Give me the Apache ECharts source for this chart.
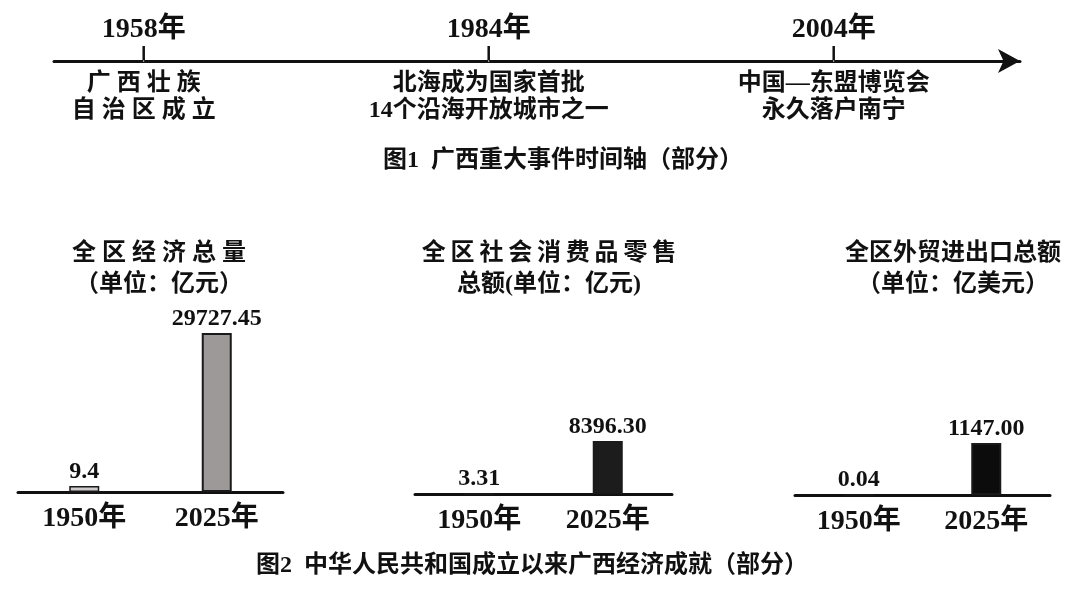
<!DOCTYPE html>
<html>
<head>
<meta charset="utf-8">
<script src="https://cdn.jsdelivr.net/npm/echarts@6/dist/echarts.min.js"></script>
<style>
html, body { margin: 0; background: #fff; }
#main { width: 1080px; height: 602px; }
</style>
</head>
<body>
<div id="main"></div>
<script>
const FONT = "'Liberation Serif', 'Noto Sans CJK SC', serif";
const INK = '#111';

// 图1 时间轴
const eventYears = ['1958年', '1984年', '2004年'];
const eventTexts = [
  '广 西 壮 族\n自 治 区 成 立',
  '北海成为国家首批\n14个沿海开放城市之一',
  '中国—东盟博览会\n永久落户南宁'
];

// 图2 三个小柱图
const years = ['1950年', '2025年'];
const gdp = ['9.4', '29727.45'];
const retail = ['3.31', '8396.30'];
const trade = ['0.04', '1147.00'];

const chart = echarts.init(document.getElementById('main'));

const txt = (size, extra) => Object.assign({
  fontFamily: FONT, fontSize: size, fontWeight: 'bold', color: INK
}, extra || {});

// 每个小图自己的纵轴上限（原图各自比例不同）
function barSeries(idx, vals, colors, minH) {
  return {
    type: 'bar',
    xAxisIndex: idx,
    yAxisIndex: idx,
    barWidth: 30,
    barMinHeight: minH,
    data: vals.map((v, i) => ({
      value: Number(v),
      itemStyle: { color: colors[i], borderColor: '#1a1a1a', borderWidth: i === 0 ? 1.5 : 2 }
    })),
    label: {
      show: true,
      position: 'top',
      distance: 2,
      formatter: p => vals[p.dataIndex],
      ...txt(24)
    },
    silent: true
  };
}

function barX(idx) {
  return {
    type: 'category',
    gridIndex: idx,
    data: years,
    axisLine: { lineStyle: { color: INK, width: 3 } },
    axisTick: { show: false },
    axisLabel: { margin: 13, ...txt(28) }
  };
}

function barY(idx, max) {
  return { type: 'value', gridIndex: idx, min: 0, max: max, show: false, splitLine: { show: false } };
}

// 时间轴上的文字点（透明点，只显示标签）
function labelSeries(texts, pos, dist, style) {
  return {
    type: 'scatter',
    xAxisIndex: 0, yAxisIndex: 0,
    symbolSize: 1,
    itemStyle: { color: '#fff', opacity: 1 },
    data: texts.map((t, i) => [i, 0]),
    label: { show: true, position: pos, distance: dist, opacity: 1,
      formatter: p => texts[p.dataIndex], ...style },
    silent: true
  };
}

const option = {
  backgroundColor: '#fff',
  animation: false,
  title: [
    { text: '图1  广西重大事件时间轴（部分）', left: 563, top: 149, textAlign: 'center', padding: 0,
      textStyle: txt(24) },
    { text: '全 区 经 济 总 量\n（单位：亿元）', left: 159, top: 238, textAlign: 'center', padding: 0,
      textStyle: txt(24, { lineHeight: 31 }) },
    { text: '全\u2009区\u2009社\u2009会\u2009消\u2009费\u2009品\u2009零\u2009售\n总额(单位：亿元)', left: 549, top: 238, textAlign: 'center', padding: 0,
      textStyle: txt(24, { lineHeight: 31 }) },
    { text: '全区外贸进出口总额\n（单位：亿美元）', left: 953, top: 238, textAlign: 'center', padding: 0,
      textStyle: txt(24, { lineHeight: 31 }) },
    { text: '图2  中华人民共和国成立以来广西经济成就（部分）', left: 532, top: 554, textAlign: 'center', padding: 0,
      textStyle: txt(24) }
  ],
  grid: [
    { left: 54, right: 60, top: 40, height: 21 },
    { left: 18, width: 265, top: 312, height: 180 },
    { left: 415, width: 257, top: 314, height: 180 },
    { left: 795, width: 255, top: 315, height: 180 }
  ],
  xAxis: [
    {
      type: 'value', gridIndex: 0, min: -0.26, max: 2.54,
      axisLine: { symbol: ['none', 'arrow'], symbolSize: [18, 22], lineStyle: { color: INK, width: 3 } },
      axisTick: { show: false }, axisLabel: { show: false }, splitLine: { show: false }
    },
    barX(1), barX(2), barX(3)
  ],
  yAxis: [
    { type: 'value', gridIndex: 0, min: 0, max: 1, show: false, splitLine: { show: false } },
    barY(1, 33650), barY(2, 28500), barY(3, 3970)
  ],
  series: [
    {
      // 刻度短线
      type: 'scatter',
      xAxisIndex: 0, yAxisIndex: 0,
      symbol: 'rect',
      symbolSize: [2.5, 15],
      symbolOffset: [0, -7.5],
      itemStyle: { color: INK, opacity: 1 },
      data: eventYears.map((y, i) => [i, 0]),
      silent: true
    },
    labelSeries(eventYears, 'top', 17, txt(28)),
    labelSeries(eventTexts, 'bottom', 9, txt(24, { lineHeight: 27, align: 'center' })),
    barSeries(1, gdp, ['#cfcbcb', '#9d9999'], 6),
    barSeries(2, retail, ['#1c1c1c', '#1c1c1c'], 0),
    barSeries(3, trade, ['#0c0c0c', '#0c0c0c'], 0)
  ]
};

chart.setOption(option);
</script>
</body>
</html>
